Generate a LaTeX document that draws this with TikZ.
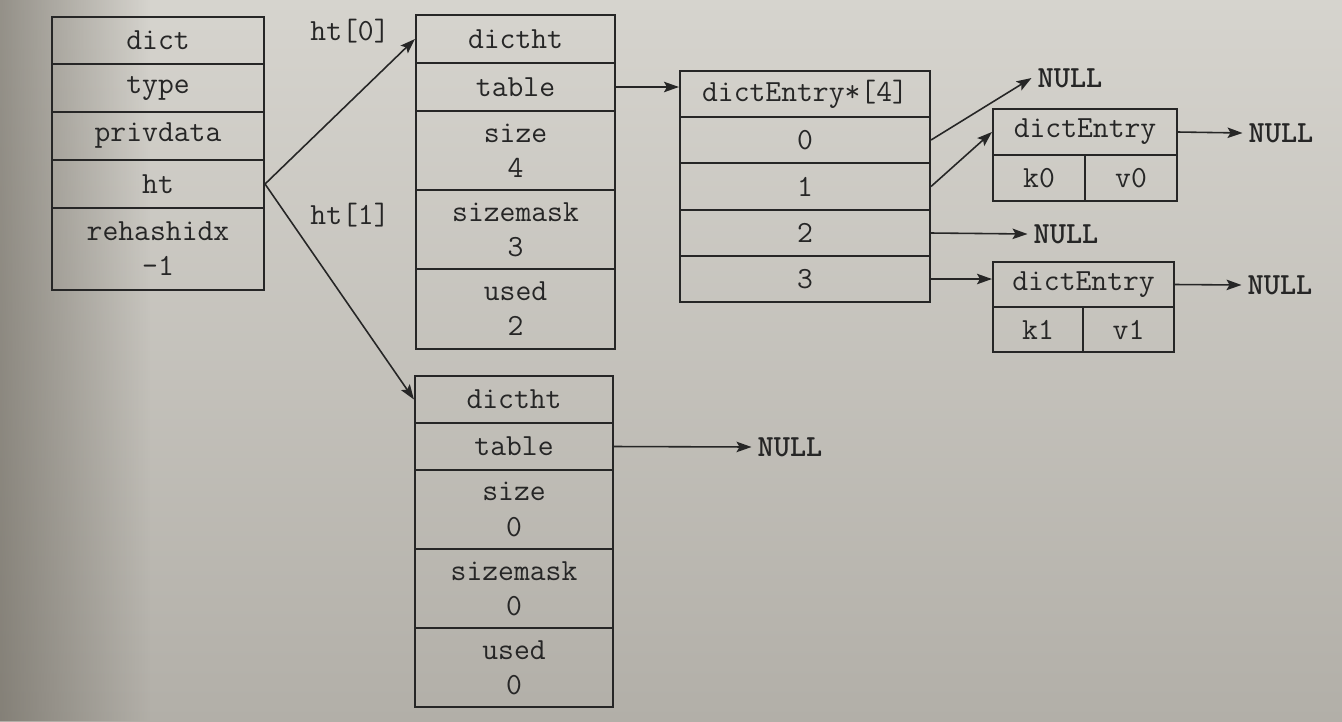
\documentclass[tikz,border=0pt]{standalone}
\usetikzlibrary{arrows.meta,fadings}
\definecolor{paper}{RGB}{214,212,206}
\definecolor{paperlow}{RGB}{178,175,168}
\definecolor{shadow}{RGB}{95,90,80}
\definecolor{ink}{RGB}{38,38,38}
\begin{document}
\begin{tikzpicture}[x=0.02cm,y=-0.02cm,color=ink]

        \shade[top color=paper,bottom color=paperlow] (0,0) rectangle (1342,721);
        \fill[shadow,fill opacity=.55,path fading=east] (0,0) rectangle (150,721);

        \begin{scope}[every node/.style={draw,rectangle,line width=1.2pt,inner sep=0pt,align=center,
            font=\ttfamily\fontsize{17.5}{20}\selectfont}]
          % dict
          \begin{scope}[every node/.append style={minimum width=4.24cm}]
            \node[minimum height=.94cm] (d1) at (158,40.5) {dict};
            \node[minimum height=.96cm] (d2) at (158,88)   {type};
            \node[minimum height=.96cm] (d3) at (158,136)  {privdata};
            \node[minimum height=.96cm] (d4) at (158,184)  {ht};
            \node[minimum height=1.64cm] (d5) at (158,249) {rehashidx\\-1};
          \end{scope}
          % ht[0]
          \begin{scope}[every node/.append style={minimum width=3.98cm}]
            \node[minimum height=.96cm] (a1) at (515.5,39)    {dictht};
            \node[minimum height=.96cm] (a2) at (515.5,87)    {table};
            \node[minimum height=1.58cm] (a3) at (515.5,150.5) {size\\4};
            \node[minimum height=1.58cm] (a4) at (515.5,229.5) {sizemask\\3};
            \node[minimum height=1.6cm] (a5) at (515.5,309)   {used\\2};
          \end{scope}
          % ht[1]
          \begin{scope}[every node/.append style={minimum width=3.96cm}]
            \node[minimum height=.94cm] (b1) at (514,399.5)  {dictht};
            \node[minimum height=.94cm] (b2) at (514,446.5)  {table};
            \node[minimum height=1.58cm] (b3) at (514,509.5) {size\\0};
            \node[minimum height=1.58cm] (b4) at (514,588.5) {sizemask\\0};
            \node[minimum height=1.58cm] (b5) at (514,667.5) {used\\0};
          \end{scope}
          % table
          \begin{scope}[every node/.append style={minimum width=5cm,minimum height=.93cm}]
            \node (t)  at (805,94)    {dictEntry*[4]};
            \node (r0) at (805,140)   {0};
            \node (r1) at (805,186.5) {1};
            \node (r2) at (805,233)   {2};
            \node (r3) at (805,279)   {3};
          \end{scope}
          % entries
          \node[minimum width=3.68cm,minimum height=.92cm] (e0) at (1085,132) {dictEntry};
          \node[minimum width=1.84cm,minimum height=.92cm] (k0) at (1039,178) {k0};
          \node[minimum width=1.84cm,minimum height=.92cm] (v0) at (1131,178) {v0};
          \node[minimum width=3.62cm,minimum height=.9cm] (e1) at (1083.5,284.5) {dictEntry};
          \node[minimum width=1.8cm,minimum height=.9cm] (k1) at (1038,329.5) {k1};
          \node[minimum width=1.82cm,minimum height=.9cm] (v1) at (1128.5,329.5) {v1};
        \end{scope}

        \begin{scope}[every node/.style={font=\ttfamily\fontsize{17.5}{20}\selectfont}]
          \node (l0) at (350,31)  {ht[0]};
          \node (l1) at (350,215) {ht[1]};
          \begin{scope}[every node/.append style={font=\ttfamily\bfseries\fontsize{17.5}{20}\selectfont}]
            \node (n0) at (1070,78)  {NULL};
            \node (n1) at (1066,234) {NULL};
            \node (n2) at (1281,133) {NULL};
            \node (n3) at (1280,285) {NULL};
            \node (n4) at (790,447)  {NULL};
          \end{scope}
        \end{scope}

        \begin{scope}[every edge/.style={draw,line width=.9pt,-{Stealth[length=3mm,width=2.1mm,inset=.6mm]}}]
          \path (d4.east) edge (a1.west);
          \path (d4.east) edge (b1.west);
          \path (a2.east) edge (a2.east -| t.west);
          \path (b2.east) edge (n4.west);
          \path (r0.east) edge (n0.west);
          \path (r1.east) edge (e0.west);
          \path (r2.east) edge (n1.west);
          \path (r3.east) edge (r3.east -| e1.west);
          \path (e0.east) edge (n2.west);
          \path (e1.east) edge (n3.west);
        \end{scope}

      \end{tikzpicture}
\end{document}
